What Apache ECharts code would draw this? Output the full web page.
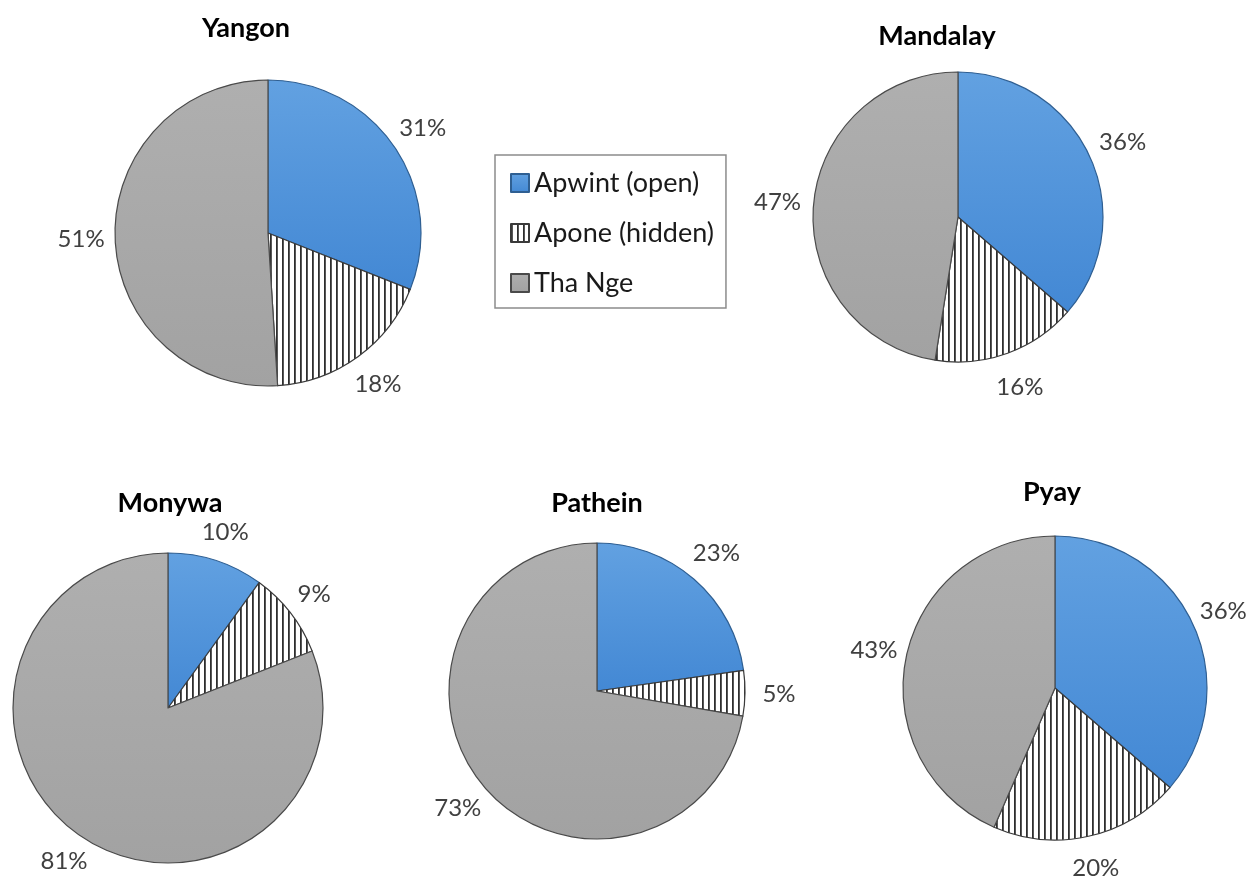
<!DOCTYPE html>
<html>
<head>
<meta charset="utf-8">
<title>Apwint / Apone / Tha Nge by city</title>
<script src="https://cdn.jsdelivr.net/npm/echarts@6/dist/echarts.min.js"></script>
<style>
  html, body { margin: 0; padding: 0; background: #ffffff; }
  #chart { width: 1254px; height: 877px; }
</style>
</head>
<body>
<div id="chart"></div>
<script>
// ---- data ----
const cities = ['Yangon', 'Mandalay', 'Monywa', 'Pathein', 'Pyay'];
const categories = ['Apwint (open)', 'Apone (hidden)', 'Tha Nge'];
const apwint = [31, 36, 10, 23, 36];
const apone  = [18, 16, 9, 5, 20];
const thaNge = [51, 47, 81, 73, 43];

// ---- layout (pixel geometry of each pie, its heading and label offset) ----
const pieLayout = [
  { center: [268, 233], radius: 153, title: [246, 28],  labelGap: 34 },
  { center: [958, 217], radius: 145, title: [937, 36],  labelGap: 36 },
  { center: [168, 708], radius: 155, title: [170, 503], labelGap: 30 },
  { center: [597, 691], radius: 148, title: [597, 503], labelGap: 34 },
  { center: [1055, 688], radius: 152, title: [1052, 492], labelGap: 33 }
];

const FONT = 'Lato, "Open Sans", sans-serif';

// vertical hatch fill for the "hidden" category
const hatch = document.createElement('canvas');
hatch.width = 6; hatch.height = 6;
const hctx = hatch.getContext('2d');
hctx.fillStyle = '#ffffff';
hctx.fillRect(0, 0, 6, 6);
hctx.fillStyle = '#2e2e2e';
hctx.fillRect(0, 0, 1.8, 6);

const fills = [
  new echarts.graphic.LinearGradient(0, 0, 0, 1, [
    { offset: 0, color: '#62a1e1' },
    { offset: 1, color: '#4388d4' }
  ]),
  { image: hatch, repeat: 'repeat' },
  new echarts.graphic.LinearGradient(0, 0, 0, 1, [
    { offset: 0, color: '#afafaf' },
    { offset: 1, color: '#a2a2a2' }
  ])
];
const borders = ['#2f5f92', '#3a3a3a', '#4a4a4a'];

const chart = echarts.init(document.getElementById('chart'), null, { renderer: 'canvas' });

const series = cities.map((city, i) => {
  const values = [apwint[i], apone[i], thaNge[i]];
  return {
    name: city,
    type: 'pie',
    center: pieLayout[i].center,
    radius: pieLayout[i].radius,
    startAngle: 90,
    clockwise: true,
    avoidLabelOverlap: false,
    animation: false,
    silent: true,
    data: categories.map((cat, k) => ({
      name: cat,
      value: values[k],
      itemStyle: { color: fills[k], borderColor: borders[k], borderWidth: 1.2 }
    })),
    label: {
      show: true,
      position: 'outside',
      formatter: '{c}%',
      fontFamily: FONT,
      fontSize: 24,
      color: '#404040',
      distanceToLabelLine: 0
    },
    labelLine: { show: false, length: pieLayout[i].labelGap, length2: 0 },
    labelLayout: () => ({ align: 'center' })
  };
});

const titles = cities.map((city, i) => ({
  type: 'text',
  x: pieLayout[i].title[0],
  y: pieLayout[i].title[1],
  silent: true,
  style: {
    text: city,
    align: 'center',
    verticalAlign: 'middle',
    font: 'bold 27px ' + FONT,
    fill: '#000000'
  }
}));

chart.setOption({
  backgroundColor: '#ffffff',
  animation: false,
  legend: {
    data: categories,
    orient: 'vertical',
    left: 495,
    top: 155,
    icon: 'rect',
    itemWidth: 18,
    itemHeight: 18,
    itemGap: 20,
    padding: [13, 12, 10, 15],
    borderColor: '#8c8c8c',
    borderWidth: 1.5,
    selectedMode: false,
    textStyle: { fontFamily: FONT, fontSize: 27, color: '#1a1a1a', lineHeight: 30 }
  },
  graphic: titles,
  series: series
});
</script>
</body>
</html>
